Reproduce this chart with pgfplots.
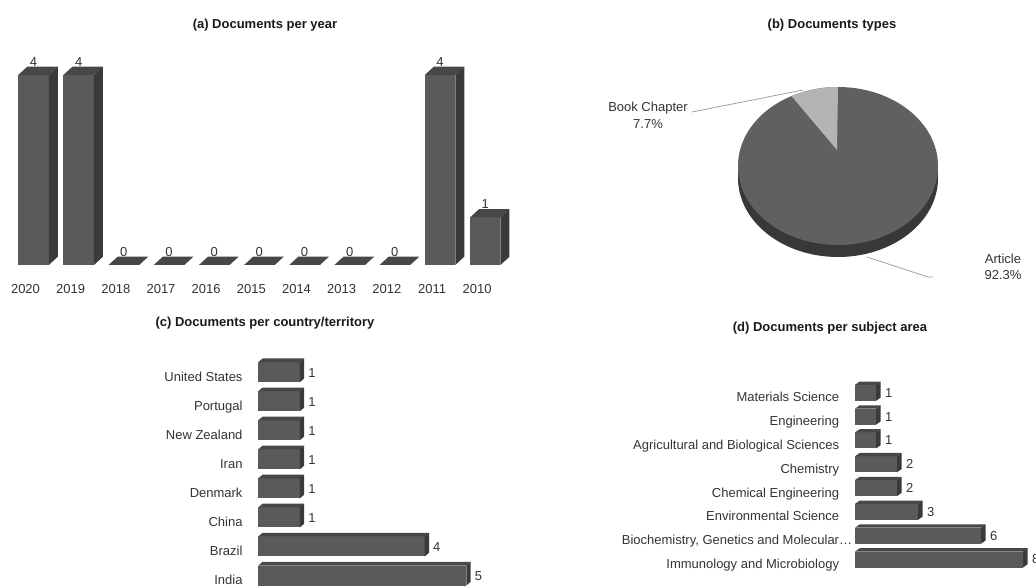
\documentclass[border=0pt]{standalone}
\usepackage{pgfplots}
\pgfplotsset{compat=1.18}
\usepackage{fontspec}
\setmainfont{Liberation Sans}
\definecolor{bfront}{HTML}{5A5A5A}
\definecolor{btop}{HTML}{474747}
\definecolor{bside}{HTML}{3A3A3A}
\definecolor{txt}{HTML}{333333}
\definecolor{pietop}{HTML}{606060}
\definecolor{pieside}{HTML}{383838}
\definecolor{pieslice}{HTML}{B4B4B4}
\definecolor{leader}{HTML}{A0A0A0}

% panel (a): 47.5pt per document, front width 30.5pt, depth (9pt, 8.3pt)
\pgfdeclareplotmark{barA}{%
  \pgfmathsetmacro\hh{\ry*47.5}%
  \pgfsetfillcolor{bfront}%
  \pgfpathrectanglecorners{\pgfpoint{-15.25pt}{-\hh pt}}{\pgfpoint{15.25pt}{0pt}}%
  \pgfusepathqfill
  \pgfsetfillcolor{btop}%
  \pgfpathmoveto{\pgfpoint{-15.25pt}{0pt}}%
  \pgfpathlineto{\pgfpoint{15.25pt}{0pt}}%
  \pgfpathlineto{\pgfpoint{24.25pt}{8.3pt}}%
  \pgfpathlineto{\pgfpoint{-6.25pt}{8.3pt}}%
  \pgfpathclose\pgfusepathqfill
  \pgfsetfillcolor{bside}%
  \pgfpathmoveto{\pgfpoint{15.25pt}{-\hh pt}}%
  \pgfpathlineto{\pgfpoint{24.25pt}{-\hh pt+8.3pt}}%
  \pgfpathlineto{\pgfpoint{24.25pt}{8.3pt}}%
  \pgfpathlineto{\pgfpoint{15.25pt}{0pt}}%
  \pgfpathclose\pgfusepathqfill
}
% panel (c): 41.6pt per document, bar height 20pt, depth (4.3pt, 3.7pt)
\pgfdeclareplotmark{barC}{%
  \pgfmathsetmacro\ll{\rx*41.6}%
  \pgfsetfillcolor{bfront}%
  \pgfpathrectanglecorners{\pgfpoint{-\ll pt}{-10pt}}{\pgfpoint{0pt}{10pt}}%
  \pgfusepathqfill
  \pgfsetfillcolor{btop}%
  \pgfpathmoveto{\pgfpoint{-\ll pt}{10pt}}%
  \pgfpathlineto{\pgfpoint{0pt}{10pt}}%
  \pgfpathlineto{\pgfpoint{4.3pt}{13.7pt}}%
  \pgfpathlineto{\pgfpoint{-\ll pt+4.3pt}{13.7pt}}%
  \pgfpathclose\pgfusepathqfill
  \pgfsetfillcolor{bside}%
  \pgfpathmoveto{\pgfpoint{0pt}{-10pt}}%
  \pgfpathlineto{\pgfpoint{4.3pt}{-6.3pt}}%
  \pgfpathlineto{\pgfpoint{4.3pt}{13.7pt}}%
  \pgfpathlineto{\pgfpoint{0pt}{10pt}}%
  \pgfpathclose\pgfusepathqfill
}
% panel (d): 21pt per document, bar height 16pt, depth (4.7pt, 3.3pt)
\pgfdeclareplotmark{barD}{%
  \pgfmathsetmacro\ll{\rx*21}%
  \pgfsetfillcolor{bfront}%
  \pgfpathrectanglecorners{\pgfpoint{-\ll pt}{-8pt}}{\pgfpoint{0pt}{8pt}}%
  \pgfusepathqfill
  \pgfsetfillcolor{btop}%
  \pgfpathmoveto{\pgfpoint{-\ll pt}{8pt}}%
  \pgfpathlineto{\pgfpoint{0pt}{8pt}}%
  \pgfpathlineto{\pgfpoint{4.7pt}{11.3pt}}%
  \pgfpathlineto{\pgfpoint{-\ll pt+4.7pt}{11.3pt}}%
  \pgfpathclose\pgfusepathqfill
  \pgfsetfillcolor{bside}%
  \pgfpathmoveto{\pgfpoint{0pt}{-8pt}}%
  \pgfpathlineto{\pgfpoint{4.7pt}{-4.7pt}}%
  \pgfpathlineto{\pgfpoint{4.7pt}{11.3pt}}%
  \pgfpathlineto{\pgfpoint{0pt}{8pt}}%
  \pgfpathclose\pgfusepathqfill
}

\pgfplotsset{
  panel/.style={
    anchor=south west, scale only axis, clip=false,
    axis line style={draw=none}, major tick length=0pt,
    /pgf/number format/assume math mode=true,
    tick label style={text=txt},
  },
}

\begin{document}
\fontsize{13}{15.6}\selectfont
\begin{tikzpicture}[x=1pt,y=1pt]
\useasboundingbox (0,0) rectangle (1036,587);
\coordinate (pa) at (10.915,322);
\coordinate (pc) at (258.3,11.5);
\coordinate (pd) at (855,27.5);

% ---------------- (a) Documents per year ----------------
\node[font=\bfseries, text=black!90] at (265,562) {(a) Documents per year};
\begin{axis}[panel,
  at={(pa)},
  x=45.17pt, y=47.5pt,
  xmin=-0.5, xmax=10.5, ymin=0, ymax=4.5,
  ytick=\empty,
  xtick={0,...,10},
  xticklabels={2020,2019,2018,2017,2016,2015,2014,2013,2012,2011,2010},
  xticklabel style={anchor=center, yshift=-24pt, xshift=-8pt, inner sep=0pt},
]
\addplot[scatter, only marks, mark=barA,
  visualization depends on={y \as \ry},
  nodes near coords,
  every node near coord/.append style={anchor=south, inner sep=0pt, yshift=8.3pt, text=txt}]
  coordinates {(0,4) (1,4) (2,0) (3,0) (4,0) (5,0) (6,0) (7,0) (8,0) (9,4) (10,1)};
\end{axis}

% ---------------- (b) Documents types ----------------
\node[font=\bfseries, text=black!90] at (832,562) {(b) Documents types};
\def\pctarticle{92.3}
\def\pctbook{7.7}
\fill[pieside] (838,409) ellipse [x radius=100, y radius=79];
\fill[pietop] (838,421) ellipse [x radius=100, y radius=79];
\fill[pieslice] (837,437) -- (838,500)
  arc[start angle=90, end angle={90+3.6*\pctbook}, x radius=100, y radius=79] -- cycle;
\draw[leader, line width=0.8pt] (692,475) -- (803,497);
\draw[leader, line width=0.8pt] (867,330) -- (928,310) -- (933,310);
\node[align=center, text=txt, font=\fontsize{13}{16.7}\selectfont] at (648,471.5) {Book Chapter\\\pctbook\%};
\node[align=center, text=txt, font=\fontsize{13}{16.7}\selectfont] at (1003,320) {Article\\\pctarticle\%};

% ---------------- (c) Documents per country/territory ----------------
\node[font=\bfseries, text=black!90] at (265,264) {(c) Documents per country/territory};
\begin{axis}[panel,
  at={(pc)},
  x=41.6pt, y=29.05pt,
  xmin=0, xmax=6, ymin=0, ymax=7.5,
  xtick=\empty,
  ytick={0,...,7},
  yticklabels={India,Brazil,China,Denmark,Iran,New Zealand,Portugal,United States},
  yticklabel style={anchor=east, xshift=-15.6pt, yshift=-4.5pt, inner sep=0pt, text height=9.4pt, text depth=0pt},
]
\addplot[scatter, only marks, mark=barC, point meta=x,
  visualization depends on={x \as \rx},
  nodes near coords,
  every node near coord/.append style={anchor=west, inner sep=0pt, xshift=8.3pt, yshift=-1pt, text=txt}]
  coordinates {(5,0) (4,1) (1,2) (1,3) (1,4) (1,5) (1,6) (1,7)};
\end{axis}

% ---------------- (d) Documents per subject area ----------------
\node[font=\bfseries, text=black!90] at (830,258.7) {(d) Documents per subject area};
\begin{axis}[panel,
  at={(pd)},
  x=21pt, y=23.81pt,
  xmin=0, xmax=9, ymin=0, ymax=7.5,
  xtick=\empty,
  ytick={0,...,7},
  yticklabels={Immunology and Microbiology,{Biochemistry, Genetics and Molecular\rlap{…}},Environmental Science,Chemical Engineering,Chemistry,Agricultural and Biological Sciences,Engineering,Materials Science},
  yticklabel style={anchor=east, xshift=-15.7pt, yshift=-4.3pt, inner sep=0pt, text height=9.4pt, text depth=0pt},
]
\addplot[scatter, only marks, mark=barD, point meta=x,
  visualization depends on={x \as \rx},
  nodes near coords,
  every node near coord/.append style={anchor=west, inner sep=0pt, xshift=9pt, text=txt}]
  coordinates {(8,0) (6,1) (3,2) (2,3) (2,4) (1,5) (1,6) (1,7)};
\end{axis}
\end{tikzpicture}
\end{document}
